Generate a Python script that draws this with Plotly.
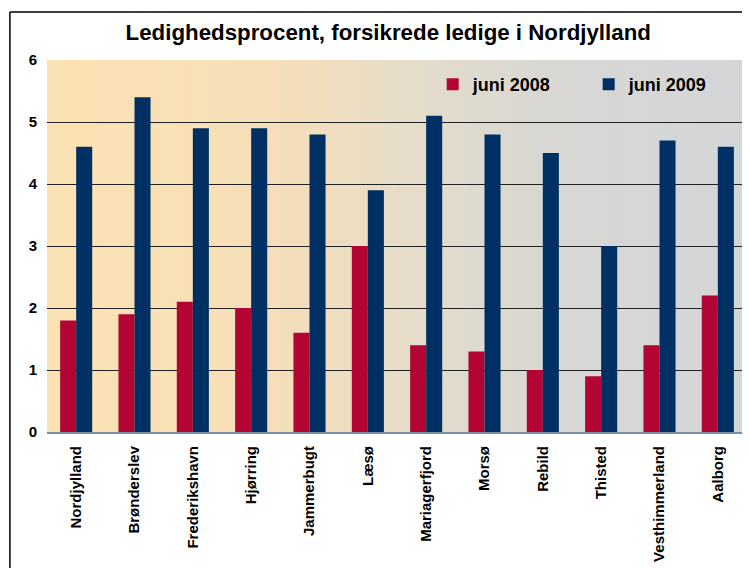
import plotly.graph_objects as go

categories = ["Nordjylland", "Brønderslev", "Frederikshavn", "Hjørring", "Jammerbugt",
              "Læsø", "Mariagerfjord", "Morsø", "Rebild", "Thisted",
              "Vesthimmerland", "Aalborg"]
juni_2008 = [1.8, 1.9, 2.1, 2.0, 1.6, 3.0, 1.4, 1.3, 1.0, 0.9, 1.4, 2.2]
juni_2009 = [4.6, 5.4, 4.9, 4.9, 4.8, 3.9, 5.1, 4.8, 4.5, 3.0, 4.7, 4.6]
y_ticks = [0, 1, 2, 3, 4, 5, 6]

FONT = "Arial, Liberation Sans, Helvetica, sans-serif"

fig = go.Figure()
fig.add_trace(go.Bar(x=categories, y=juni_2008, name="juni 2008",
                     marker=dict(color="#B20534", line=dict(width=0))))
fig.add_trace(go.Bar(x=categories, y=juni_2009, name="juni 2009",
                     marker=dict(color="#003063", line=dict(width=0))))

# background gradient (peach -> grey) drawn as thin strips under the grid
stops = [(0.0, (251, 226, 180)), (0.15, (250, 225, 181)), (0.35, (244, 222, 186)),
         (0.55, (227, 220, 204)), (0.72, (216, 215, 212)), (1.0, (211, 214, 216))]

def col_at(t):
    for (t0, c0), (t1, c1) in zip(stops[:-1], stops[1:]):
        if t0 <= t <= t1:
            f = (t - t0) / (t1 - t0)
            return "rgb(%d,%d,%d)" % tuple(round(a + (b - a) * f) for a, b in zip(c0, c1))
    return "rgb(%d,%d,%d)" % stops[-1][1]

shapes = []
N = 120
for i in range(N):
    x0 = i / N
    x1 = (i + 1) / N + 0.002
    shapes.append(dict(type="rect", xref="paper", yref="paper", x0=x0, x1=min(x1, 1.0),
                       y0=0, y1=1, fillcolor=col_at((i + 0.5) / N),
                       line=dict(width=0), layer="below"))

# outer chart frame (left and top edges visible)
shapes.append(dict(type="line", xref="paper", yref="paper", x0=-0.053, x1=-0.053,
                   y0=-0.5, y1=1.129, line=dict(color="#000000", width=1.5)))
shapes.append(dict(type="line", xref="paper", yref="paper", x0=-0.053, x1=1.2,
                   y0=1.129, y1=1.129, line=dict(color="#000000", width=1.5)))

fig.update_layout(
    width=750, height=568,
    margin=dict(l=39, r=11, t=52, b=144, autoexpand=False),
    paper_bgcolor="white",
    plot_bgcolor="rgba(0,0,0,0)",
    barmode="group", bargap=0.45, bargroupgap=0,
    font=dict(family=FONT, color="#000000"),
    title=dict(text="Ledighedsprocent, forsikrede ledige i Nordjylland",
               font=dict(size=22.3, family=FONT, weight="bold", color="#000000"),
               x=0.507, xanchor="center", xref="container",
               y=1 - 24 / 568, yanchor="middle", yref="container"),
    legend=dict(orientation="h", x=0.551, xanchor="left", y=0.984, yanchor="top",
                bgcolor="rgba(0,0,0,0)", itemwidth=30,
                entrywidth=111, entrywidthmode="pixels",
                font=dict(size=18, family=FONT, weight="bold", color="#000000")),
    shapes=shapes,
    xaxis=dict(tickangle=-90, tickfont=dict(size=15, family=FONT, weight="bold"),
               showline=True, linecolor="#7B8FA8", linewidth=2, automargin=False,
               showgrid=False, ticks="", ticklabelstandoff=6),
    yaxis=dict(range=[0, 6], tickvals=y_ticks, showgrid=True, gridcolor="#222222",
               gridwidth=1.2, zeroline=False, showline=False, ticks="", automargin=False,
               tickfont=dict(size=15, family=FONT, weight="bold"),
               ticklabelstandoff=9),
)

fig.write_html("out.html")
